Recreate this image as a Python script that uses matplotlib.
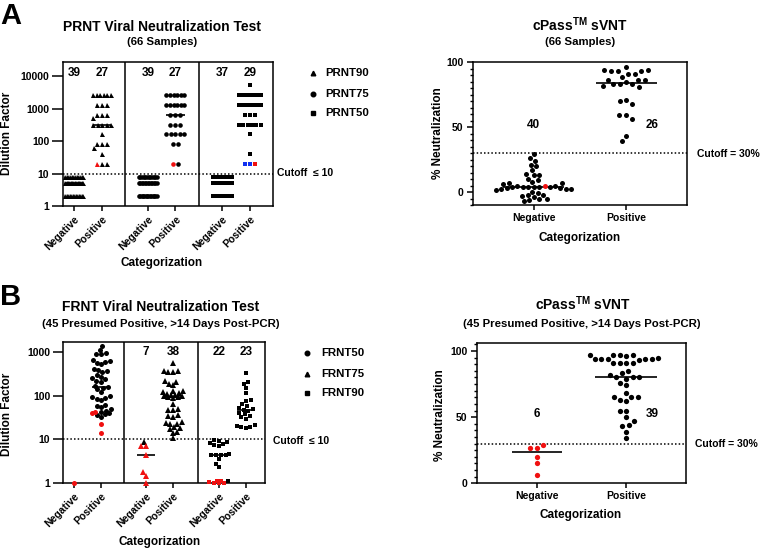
import numpy as np
import matplotlib
matplotlib.use('Agg')
import matplotlib.pyplot as plt
from matplotlib.lines import Line2D
from matplotlib.ticker import FixedLocator, MultipleLocator, NullLocator

plt.rcParams['font.family'] = ['Liberation Sans', 'DejaVu Sans']
plt.rcParams['font.weight'] = 'bold'
plt.rcParams['mathtext.fontset'] = 'custom'
plt.rcParams['mathtext.bf'] = 'Liberation Sans:bold'
plt.rcParams['mathtext.rm'] = 'Liberation Sans:bold'

# ---------------- data ----------------
cat_labels = ['Negative', 'Positive']

# A: PRNT titres are discrete, kept as value / count pairs
prnt_neg_vals = [2, 5, 8]
prnt90_neg_n = [13, 14, 12]
prnt75_neg_n = [14, 13, 12]
prnt50_neg_n = [13, 13, 11]

prnt90_pos_vals = [2560, 1280, 640, 500, 320, 160, 80, 60, 40, 20]
prnt90_pos_n = [6, 3, 3, 1, 5, 1, 3, 1, 1, 2]
prnt90_pos_red = [20]

prnt75_pos_vals = [2560, 1280, 640, 320, 160, 80, 20]
prnt75_pos_n = [6, 6, 3, 3, 5, 2, 1]
prnt75_pos_red = [20]

prnt50_pos_vals = [5120, 2560, 1280, 640, 320, 160, 40]
prnt50_pos_n = [1, 7, 7, 3, 6, 1, 1]
prnt50_pos_blue = [20, 20]
prnt50_pos_red = [20]

# A: cPass % neutralization
cpass_a_neg = [29, 26, 24, 21, 20, 17, 14, 13, 13, 10, 9, 8, 7, 7, 6, 5, 4.5, 4, 4, 4,
               3.8, 3.5, 3.5, 3, 3, 2.5, 2, 2, 1.5, 0, -1, -2, -2.5, -3, -4, -5, -5.5, -6, -7]
cpass_a_neg_red = [4.5]
cpass_a_pos = [96, 94, 94, 93, 93, 93, 91, 91, 89, 86, 86, 86, 85, 83, 83, 83, 82, 81,
               71, 70, 68, 59, 59, 56, 43, 39]

# B: FRNT titres
frnt50_neg_red = [1]
frnt50_pos = [1350, 1100, 950, 900, 870, 650, 620, 600, 560, 520, 400, 380, 360, 340, 300,
              270, 250, 240, 220, 210, 170, 160, 150, 140, 120, 100, 95, 90, 85, 80,
              62, 58, 55, 50, 45, 42, 40, 38, 36, 33]
frnt50_pos_red = [42, 40, 23, 14]
frnt75_neg = [8.7]
frnt75_neg_red = [7, 7, 4.5, 1.8, 1.5, 1]
frnt75_pos = [560, 370, 360, 355, 350, 220, 210, 185, 175, 130, 125, 120, 115, 110, 105,
              102, 100, 98, 95, 92, 90, 63, 50, 48, 46, 36, 34, 33, 25, 24, 23, 22, 19,
              18, 17, 15, 14, 11]
frnt90_neg = [9.5, 9.2, 8.8, 8.5, 8, 7.5, 7, 4.6, 4.5, 4.5, 4.5, 4.4, 3.6, 2.8, 2.3, 1.1]
frnt90_neg_red = [1.15, 1.1, 1.05, 1, 1, 1]
frnt90_pos = [330, 200, 187, 151, 117, 80, 75, 65, 58, 52, 50, 48, 45, 40, 38, 35, 32, 30,
              21, 20, 19, 19, 18]

# B: cPass
cpass_b_neg_red = [29, 27, 27, 20, 15, 6.5]
cpass_b_pos = [97, 97, 97, 97, 96, 95, 94, 94, 94, 94, 94, 93, 91, 91, 91, 91,
               85, 83, 82, 80, 80, 80, 79, 76, 74, 68, 65, 65, 65, 63, 62, 55, 55, 50,
               47, 44, 43, 39, 34]

RED = '#f01010'
BLUE = '#1030f0'
W, H = 760, 549
PT = 72 / 100  # points per pixel


def rect(x0, y0, x1, y1):
    return [x0 / W, 1 - y1 / H, (x1 - x0) / W, (y1 - y0) / H]


def swarm(vals, ppx, ppy, diam, maxw, log=False, rows=False, center=False):
    """horizontal offsets (data units) so markers don't overlap"""
    vals = np.asarray(vals, float)
    ypx = (np.log10(vals) if log else vals) * ppy
    offs = np.zeros(len(vals))
    placed = []
    cand = np.arange(-maxw, maxw + 0.01, 0.25)
    cand = cand[np.argsort(np.abs(cand), kind='stable')]
    key = np.abs(ypx - np.median(ypx)) if center else ypx
    todo = list(np.argsort(key, kind='stable'))
    if rows:
        done = set()
        for v in np.unique(vals):
            ii = np.where(vals == v)[0]
            if len(ii) > 1:
                sp = min(diam, 2 * maxw / (len(ii) - 1))
                o = (np.arange(len(ii)) - (len(ii) - 1) / 2) * sp
                offs[ii] = o
                placed += [(a, ypx[i]) for a, i in zip(o, ii)]
                done.update(ii.tolist())
        todo = [i for i in todo if i not in done]
    for i in todo:
        c = 0.0
        if placed:
            p = np.array(placed)
            d = np.sqrt((cand[:, None] - p[None, :, 0]) ** 2 + (ypx[i] - p[None, :, 1]) ** 2).min(axis=1)
            ok = np.where(d >= diam - 1e-9)[0]
            c = cand[ok[0]] if len(ok) else cand[np.argmax(d)]
        offs[i] = c
        placed.append((c, ypx[i]))
    return offs / ppx


def draw_group(ax, x0, segs, marker, ms, scale, diam, maxw, log=False, rows=False,
               center=False, med=True, medw=0.33):
    vals = np.concatenate([np.asarray(v, float) for v, c in segs])
    cols = np.array(sum([[c] * len(v) for v, c in segs], []))
    offs = swarm(vals, scale[0], scale[1], diam, maxw, log, rows, center)
    if med and len(vals) > 1:
        ax.plot([x0 - medw, x0 + medw], [np.median(vals)] * 2, color='k', lw=1.2,
                zorder=2, solid_capstyle='butt')
    for c in dict.fromkeys(cols):
        m = cols == c
        ax.plot(x0 + offs[m], vals[m], ls='none', marker=marker, ms=ms, mfc=c, mec=c,
                mew=0, zorder=3, clip_on=False)
    return len(vals)


def style(ax, ylen, ypad):
    for s in ax.spines.values():
        s.set_linewidth(1.1)
    ax.tick_params(direction='out', width=1.1, labelsize=7.5)
    ax.tick_params(axis='x', length=5 * PT, pad=2)
    ax.tick_params(axis='y', length=ylen * PT, pad=ypad)
    ax.tick_params(which='minor', length=3 * PT, width=1.0)


def expand(v, n):
    return np.repeat(v, n)


fig = plt.figure(figsize=(7.6, 5.49), dpi=100, facecolor='white')


def ftext(x, y, s, **kw):
    fig.text(x / W, 1 - y / H, s, **kw)


xs = [0, 1, 2.64, 3.63, 5.31, 6.30]

# ---------------- A left: PRNT ----------------
axA = fig.add_axes(rect(63, 62, 273, 206))
axA.set_yscale('log')
axA.set_ylim(1, 27000)
axA.set_xlim(-0.4, 7.13)
scA = (210 / 7.53, 144 / np.log10(27000))
groupsA = [
    ([(expand(prnt_neg_vals, prnt90_neg_n), 'k')], '^', 9),
    ([(prnt90_pos_red, RED), (expand(prnt90_pos_vals, prnt90_pos_n), 'k')], '^', 9),
    ([(expand(prnt_neg_vals, prnt75_neg_n), 'k')], 'o', 9),
    ([(prnt75_pos_red, RED), (expand(prnt75_pos_vals, prnt75_pos_n), 'k')], 'o', 9),
    ([(expand(prnt_neg_vals, prnt50_neg_n), 'k')], 's', 9.5),
    ([(prnt50_pos_blue, BLUE), (prnt50_pos_red, RED),
      (expand(prnt50_pos_vals, prnt50_pos_n), 'k')], 's', 11),
]
for x0, (segs, mk, mw) in zip(xs, groupsA):
    ms = {'^': 3.6, 'o': 3.3, 's': 3.0}[mk]
    n = draw_group(axA, x0, segs, mk, ms, scA, 5, mw, log=True, rows=True)
    axA.text(x0, 0.926, str(n), transform=axA.get_xaxis_transform(), ha='center',
             va='center', fontsize=8.5)
for sx in [1.82, 4.48]:
    axA.axvline(sx, color='k', lw=1.1)
axA.axhline(10, color='k', lw=1.1, ls=(0, (1, 1.4)), zorder=1)
axA.yaxis.set_major_locator(FixedLocator([1, 10, 100, 1000, 10000]))
axA.yaxis.set_minor_locator(NullLocator())
axA.set_yticklabels(['1', '10', '100', '1000', '10000'])
axA.set_xticks(xs)
axA.set_xticklabels(cat_labels * 3, rotation=45, ha='right', rotation_mode='anchor')
style(axA, 11, 2)

# ---------------- A right: cPass ----------------
axC = fig.add_axes(rect(473, 62.3, 687, 205))
axC.set_ylim(-10, 100)
axC.set_xlim(-0.66, 1.66)
scC = (214 / 2.32, 142.7 / 110)
n0 = draw_group(axC, 0, [(cpass_a_neg_red, RED), (cpass_a_neg, 'k')], 'o', 3.6, scC, 5.4, 40,
                center=True)
n1 = draw_group(axC, 1, [(cpass_a_pos, 'k')], 'o', 3.6, scC, 6.6, 40, center=True)
axC.text(0, 52, str(n0), ha='center', va='center', fontsize=8.5)
axC.text(1.28, 52, str(n1), ha='center', va='center', fontsize=8.5)
axC.axhline(30, color='k', lw=1.1, ls=(0, (1, 1.4)), zorder=1)
axC.set_yticks([0, 50, 100])
axC.yaxis.set_minor_locator(MultipleLocator(5))
axC.set_xticks([0, 1])
axC.set_xticklabels(cat_labels)
style(axC, 6, 2.5)

# ---------------- B left: FRNT ----------------
axB = fig.add_axes(rect(63, 342.3, 265, 483.3))
axB.set_yscale('log')
axB.set_ylim(1, 1650)
axB.set_xlim(-0.4, 7.0)
scB = (202 / 7.4, 141 / np.log10(1650))
groupsB = [
    ([(frnt50_neg_red, RED)], 'o', False),
    ([(frnt50_pos, 'k'), (frnt50_pos_red, RED)], 'o', False),
    ([(frnt75_neg, 'k'), (frnt75_neg_red, RED)], '^', True),
    ([(frnt75_pos, 'k')], '^', True),
    ([(frnt90_neg, 'k'), (frnt90_neg_red, RED)], 's', True),
    ([(frnt90_pos, 'k')], 's', True),
]
for x0, (segs, mk, show_n) in zip(xs, groupsB):
    ms = {'^': 3.8, 'o': 3.6, 's': 3.3}[mk]
    n = draw_group(axB, x0, segs, mk, ms, scB, 4.6, 10, log=True)
    if show_n:
        axB.text(x0, 0.933, str(n), transform=axB.get_xaxis_transform(), ha='center',
                 va='center', fontsize=8.5)
for sx in [1.84, 4.53]:
    axB.axvline(sx, color='k', lw=1.1)
axB.axhline(10, color='k', lw=1.1, ls=(0, (1, 1.4)), zorder=1)
axB.yaxis.set_major_locator(FixedLocator([1, 10, 100, 1000]))
axB.yaxis.set_minor_locator(NullLocator())
axB.set_yticklabels(['1', '10', '100', '1000'])
axB.set_xticks(xs)
axB.set_xticklabels(cat_labels * 3, rotation=45, ha='right', rotation_mode='anchor')
style(axB, 10, 2)

# ---------------- B right: cPass ----------------
axD = fig.add_axes(rect(477, 343, 686, 483.3))
axD.set_ylim(0, 106)
axD.set_xlim(-0.67, 1.67)
scD = (209 / 2.34, 140.3 / 106)
n0 = draw_group(axD, 0, [(cpass_b_neg_red, RED)], 'o', 3.8, scD, 6.5, 40, medw=0.28)
n1 = draw_group(axD, 1, [(cpass_b_pos, 'k')], 'o', 3.8, scD, 6.5, 40, medw=0.35)
axD.text(0, 52.5, str(n0), ha='center', va='center', fontsize=8.5)
axD.text(1.29, 52.5, str(n1), ha='center', va='center', fontsize=8.5)
axD.axhline(30, color='k', lw=1.1, ls=(0, (1, 1.4)), zorder=1)
axD.set_yticks([0, 50, 100])
axD.yaxis.set_minor_locator(MultipleLocator(5))
axD.set_xticks([0, 1])
axD.set_xticklabels(cat_labels)
style(axD, 6, 2.5)

# ---------------- texts ----------------
ftext(0, 24, 'A', fontsize=21, ha='left', va='baseline')
ftext(0, 305, 'B', fontsize=21, ha='left', va='baseline')

cpass_title = 'cPass$^{\\mathbf{TM}}$ sVNT'
ftext(161.7, 30.7, 'PRNT Viral Neutralization Test', ha='center', va='baseline', fontsize=10)
ftext(161.7, 45, '(66 Samples)', ha='center', va='baseline', fontsize=8.2)
ftext(580, 30.5, cpass_title, ha='center', va='baseline', fontsize=10)
ftext(580, 45, '(66 Samples)', ha='center', va='baseline', fontsize=8.2)
ftext(160.8, 311, 'FRNT Viral Neutralization Test', ha='center', va='baseline', fontsize=10)
ftext(160.8, 326.7, '(45 Presumed Positive, >14 Days Post-PCR)', ha='center',
      va='baseline', fontsize=8.2)
ftext(583, 310, cpass_title, ha='center', va='baseline', fontsize=10)
ftext(581.7, 326.7, '(45 Presumed Positive, >14 Days Post-PCR)', ha='center',
      va='baseline', fontsize=8.2)

ftext(6.7, 133, 'Dilution Factor', rotation=90, ha='center', va='center', fontsize=8.5)
ftext(6.7, 414, 'Dilution Factor', rotation=90, ha='center', va='center', fontsize=8.5)
ftext(438.3, 133.5, '% Neutralization', rotation=90, ha='center', va='center', fontsize=8.5)
ftext(440, 415, '% Neutralization', rotation=90, ha='center', va='center', fontsize=8.5)
ftext(162, 263, 'Categorization', ha='center', va='center', fontsize=8.5)
ftext(160, 541.7, 'Categorization', ha='center', va='center', fontsize=8.5)
ftext(579.7, 237.5, 'Categorization', ha='center', va='center', fontsize=8.5)
ftext(581, 515, 'Categorization', ha='center', va='center', fontsize=8.5)

ftext(276.7, 173.3, 'Cutoff  \u2264 10', ha='left', va='center', fontsize=7.5)
ftext(272.7, 440.7, 'Cutoff  \u2264 10', ha='left', va='center', fontsize=7.5)
ftext(696.7, 153.7, 'Cutoff = 30%', ha='left', va='center', fontsize=7.5)
ftext(695, 444, 'Cutoff = 30%', ha='left', va='center', fontsize=7.5)

legA = [('^', 'PRNT90'), ('o', 'PRNT75'), ('s', 'PRNT50')]
legB = [('o', 'FRNT50'), ('^', 'FRNT75'), ('s', 'FRNT90')]
for (mk, lab), y in zip(legA, [72.7, 94.3, 113.3]):
    fig.add_artist(Line2D([313.3 / W], [1 - y / H], marker=mk, ms=3.3, color='k', ls='none',
                          transform=fig.transFigure))
    ftext(325, y, lab, ha='left', va='center', fontsize=8.2)
for (mk, lab), y in zip(legB, [353.3, 373.7, 393.3]):
    fig.add_artist(Line2D([306.7 / W], [1 - y / H], marker=mk, ms=3.3, color='k', ls='none',
                          transform=fig.transFigure))
    ftext(321, y, lab, ha='left', va='center', fontsize=8.2)

fig.savefig('out.png', dpi=100, facecolor='white')
